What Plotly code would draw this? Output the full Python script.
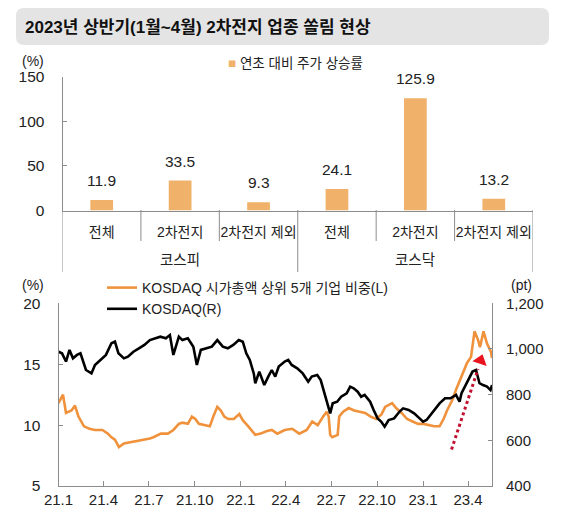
import plotly.graph_objects as go

# page window is 569x517, the browser's default body margin puts the figure at (8, 8)
PAGE_W, PAGE_H = 569, 517
OFF = 8
W, H = PAGE_W - 2 * OFF, PAGE_H - 2 * OFF

# 막대 차트: 연초 대비 주가 상승률 (%)
categories = ["전체", "2차전지", "2차전지 제외", "전체", "2차전지", "2차전지 제외"]
groups = ["코스피", "코스닥"]
returns = [11.9, 33.5, 9.3, 24.1, 125.9, 13.2]

# 선 차트: KOSDAQ 시가총액 상위 5개 기업 비중 (%, 좌축)
share_dates = [
    "2021-01-01", "2021-01-10", "2021-01-16", "2021-01-27", "2021-02-03", "2021-02-10", "2021-02-21",
    "2021-03-04", "2021-03-15", "2021-03-30", "2021-04-10", "2021-04-17", "2021-04-24", "2021-05-02",
    "2021-05-12", "2021-05-27", "2021-06-11", "2021-06-25", "2021-07-03", "2021-07-10", "2021-07-25",
    "2021-08-08", "2021-08-19", "2021-08-30", "2021-09-06", "2021-09-17", "2021-09-25", "2021-10-02",
    "2021-10-09", "2021-10-20", "2021-10-31", "2021-11-07", "2021-11-15", "2021-11-22", "2021-11-29",
    "2021-12-07", "2021-12-18", "2021-12-29", "2022-01-05", "2022-01-16", "2022-01-30", "2022-02-10",
    "2022-02-21", "2022-03-04", "2022-03-15", "2022-03-30", "2022-04-14", "2022-04-28", "2022-05-13",
    "2022-05-24", "2022-06-04", "2022-06-15", "2022-06-22", "2022-06-26", "2022-06-29", "2022-07-03",
    "2022-07-14", "2022-07-17", "2022-07-25", "2022-08-05", "2022-08-16", "2022-08-27", "2022-09-07",
    "2022-09-18", "2022-09-29", "2022-10-10", "2022-10-17", "2022-10-31", "2022-11-08", "2022-11-19",
    "2022-11-30", "2022-12-11", "2022-12-22", "2023-01-02", "2023-01-12", "2023-01-23", "2023-02-03",
    "2023-02-11", "2023-02-18", "2023-03-01", "2023-03-08", "2023-03-16", "2023-03-23", "2023-03-30",
    "2023-04-07", "2023-04-10", "2023-04-14", "2023-04-21", "2023-04-25", "2023-05-02", "2023-05-09",
    "2023-05-17", "2023-05-19",
]
share_values = [
    11.8, 12.5, 11.0, 11.2, 11.6, 10.7, 9.9,
    9.7, 9.6, 9.6, 9.3, 9.0, 8.8, 8.2,
    8.5, 8.6, 8.7, 8.8, 8.9, 9.0, 9.3,
    9.3, 9.6, 10.1, 10.2, 10.1, 10.7, 10.5,
    10.1, 10.0, 9.9, 10.7, 11.5, 11.2, 10.7,
    10.5, 10.5, 10.9, 10.4, 9.9, 9.2, 9.3,
    9.5, 9.6, 9.3, 9.6, 9.7, 9.3, 9.6,
    10.3, 10.0, 10.7, 11.1, 10.7, 9.2, 9.0,
    9.2, 10.7, 11.1, 11.4, 11.2, 11.1, 11.0,
    10.7, 10.5, 10.9, 11.5, 11.8, 11.4, 11.0,
    10.5, 10.3, 10.1, 10.1, 10.0, 9.9, 9.9,
    10.5, 11.2, 12.1, 12.9, 13.7, 14.5, 15.1,
    15.6, 16.4, 17.7, 17.0, 16.4, 17.7, 16.7,
    16.0, 15.5,
]

# 선 차트: KOSDAQ 지수 (pt, 우축)
kosdaq_dates = [
    "2021-01-01", "2021-01-08", "2021-01-16", "2021-01-23", "2021-01-30", "2021-02-07", "2021-02-14",
    "2021-02-25", "2021-03-08", "2021-03-15", "2021-03-26", "2021-04-06", "2021-04-17", "2021-04-24",
    "2021-05-01", "2021-05-12", "2021-05-20", "2021-05-31", "2021-06-11", "2021-06-22", "2021-07-03",
    "2021-07-13", "2021-07-24", "2021-08-04", "2021-08-12", "2021-08-19", "2021-08-30", "2021-09-06",
    "2021-09-17", "2021-09-28", "2021-10-05", "2021-10-13", "2021-10-24", "2021-11-04", "2021-11-15",
    "2021-11-26", "2021-12-06", "2021-12-17", "2021-12-28", "2022-01-05", "2022-01-12", "2022-01-19",
    "2022-01-27", "2022-01-30", "2022-02-07", "2022-02-14", "2022-02-17", "2022-02-25", "2022-03-04",
    "2022-03-11", "2022-03-18", "2022-03-30", "2022-04-06", "2022-04-13", "2022-04-24", "2022-05-05",
    "2022-05-16", "2022-05-23", "2022-06-03", "2022-06-10", "2022-06-18", "2022-06-25", "2022-06-29",
    "2022-07-04", "2022-07-13", "2022-07-21", "2022-08-01", "2022-08-08", "2022-08-15", "2022-08-23",
    "2022-08-30", "2022-09-06", "2022-09-17", "2022-09-24", "2022-10-02", "2022-10-09", "2022-10-16",
    "2022-10-24", "2022-11-04", "2022-11-15", "2022-11-22", "2022-12-03", "2022-12-14", "2022-12-25",
    "2023-01-01", "2023-01-08", "2023-01-16", "2023-01-27", "2023-02-03", "2023-02-14", "2023-02-25",
    "2023-03-08", "2023-03-15", "2023-03-19", "2023-03-30", "2023-04-10", "2023-04-17", "2023-04-24",
    "2023-05-01", "2023-05-09", "2023-05-16", "2023-05-19",
]
kosdaq_values = [
    988, 981, 945, 996, 959, 974, 981,
    908, 893, 930, 952, 974, 1025, 1032,
    981, 959, 966, 988, 1003, 1018, 1039,
    1047, 1054, 1047, 1061, 974, 1054, 1039,
    1047, 1010, 930, 996, 1003, 1010, 1039,
    1010, 1003, 1018, 1039, 1032, 981, 952,
    893, 850, 901, 864, 842, 879, 908,
    879, 923, 945, 952, 930, 915, 893,
    857, 879, 886, 864, 806, 747, 718,
    762, 769, 791, 806, 835, 828, 813,
    791, 799, 769, 733, 696, 682, 660,
    689, 696, 726, 740, 733, 718, 696,
    682, 689, 711, 740, 762, 784, 784,
    799, 769, 806, 857, 901, 908, 850,
    842, 835, 820, 842,
]

x_tick_dates = ["2021-01-01", "2021-04-01", "2021-07-01", "2021-10-01", "2022-01-01",
                "2022-04-01", "2022-07-01", "2022-10-01", "2023-01-01", "2023-04-01"]
x_tick_labels = ["21.1", "21.4", "21.7", "21.10", "22.1", "22.4", "22.7", "22.10", "23.1", "23.4"]

BAR_COLOR = "#F0B26A"
SHARE_COLOR = "#F0923C"
AXIS_COLOR = "#8C8C8C"
TEXT_COLOR = "#222222"
FONT = "Liberation Sans, Noto Sans CJK KR, sans-serif"


def px(x):
    # page pixel -> paper x
    return (x - OFF) / W


def py(y):
    # page pixel -> paper y
    return 1 - (y - OFF) / H


fig = go.Figure()

# --- 막대
fig.add_trace(go.Bar(
    x=list(range(len(categories))), y=returns,
    width=0.29, marker=dict(color=BAR_COLOR, line=dict(width=0)),
    xaxis="x", yaxis="y", showlegend=False, hoverinfo="skip",
))

# --- 선
fig.add_trace(go.Scatter(
    x=share_dates, y=share_values, mode="lines",
    line=dict(color=SHARE_COLOR, width=2.6),
    name="KOSDAQ 시가총액 상위 5개 기업 비중(L)",
    xaxis="x2", yaxis="y2", legend="legend2",
))
fig.add_trace(go.Scatter(
    x=kosdaq_dates, y=kosdaq_values, mode="lines",
    line=dict(color="#000000", width=2.6),
    name="KOSDAQ(R)",
    xaxis="x2", yaxis="y3", legend="legend2",
))

# 화살표 머리
fig.add_trace(go.Scatter(
    x=["2023-04-26"], y=[15.3], mode="markers",
    marker=dict(symbol="triangle-up", size=13, angle=18, color="#E8141E", line=dict(width=0)),
    xaxis="x2", yaxis="y2", showlegend=False, hoverinfo="skip",
))

annotations = []
shapes = []

# 제목 바
r = 8
x0, x1, y0, y1 = 16, 549, 8, 45
path = (f"M {px(x0 + r)} {py(y0)} L {px(x1 - r)} {py(y0)} Q {px(x1)} {py(y0)} {px(x1)} {py(y0 + r)} "
        f"L {px(x1)} {py(y1 - r)} Q {px(x1)} {py(y1)} {px(x1 - r)} {py(y1)} "
        f"L {px(x0 + r)} {py(y1)} Q {px(x0)} {py(y1)} {px(x0)} {py(y1 - r)} "
        f"L {px(x0)} {py(y0 + r)} Q {px(x0)} {py(y0)} {px(x0 + r)} {py(y0)} Z")
shapes.append(dict(type="path", path=path, xref="paper", yref="paper",
                   fillcolor="#E4E4E4", line=dict(width=0), layer="below"))
annotations.append(dict(text="<b>2023년 상반기(1월~4월) 2차전지 업종 쏠림 현상</b>",
                        x=px(23), y=py(27), xref="paper", yref="paper",
                        xanchor="left", yanchor="middle", showarrow=False,
                        font=dict(size=17, color="#111111")))

# 막대 범례 / 단위
annotations.append(dict(text=f'<span style="color:{BAR_COLOR}">■</span> 연초 대비 주가 상승률',
                        x=px(226), y=py(63), xref="paper", yref="paper",
                        xanchor="left", yanchor="middle", showarrow=False,
                        font=dict(size=13.5, color=TEXT_COLOR)))
annotations.append(dict(text="(%)", x=px(46), y=py(61), xref="paper", yref="paper",
                        xanchor="right", yanchor="middle", showarrow=False,
                        font=dict(size=14, color=TEXT_COLOR)))

# 막대 값 라벨
for i, v in enumerate(returns):
    annotations.append(dict(text=f"{v:.1f}", x=i, y=v, xref="x", yref="y",
                            xanchor="center", yanchor="bottom", yshift=9, showarrow=False,
                            font=dict(size=15.5, color=TEXT_COLOR)))

# 그룹 라벨 (코스피 / 코스닥)
for g, name in enumerate(groups):
    annotations.append(dict(text=name, x=g * 3 + 1, y=py(260), xref="x", yref="paper",
                            xanchor="center", yanchor="middle", showarrow=False,
                            font=dict(size=14.5, color=TEXT_COLOR)))

# 카테고리 구분선
for k in range(len(categories) + 1):
    xv = k - 0.5
    bottom = 272 if k % 3 == 0 else 241
    shapes.append(dict(type="line", xref="x", yref="paper", x0=xv, x1=xv,
                       y0=py(210), y1=py(bottom), line=dict(color=AXIS_COLOR, width=1)))

# 선 차트 단위
annotations.append(dict(text="(%)", x=px(46), y=py(285), xref="paper", yref="paper",
                        xanchor="right", yanchor="middle", showarrow=False,
                        font=dict(size=14, color=TEXT_COLOR)))
annotations.append(dict(text="(pt)", x=px(521), y=py(285), xref="paper", yref="paper",
                        xanchor="center", yanchor="middle", showarrow=False,
                        font=dict(size=14, color=TEXT_COLOR)))

# 점선 화살표
shapes.append(dict(type="line", xref="x2", yref="y2",
                   x0="2023-02-27", y0=8.0, x1="2023-04-21", y1=14.6,
                   line=dict(color="#C0102E", width=3, dash="dot")))

axis_common = dict(showline=True, linecolor=AXIS_COLOR, linewidth=1, showgrid=False,
                   zeroline=False, automargin=False, fixedrange=True)

fig.update_layout(
    width=W, height=H,
    margin=dict(l=0, r=0, t=0, b=0, autoexpand=False),
    paper_bgcolor="white", plot_bgcolor="rgba(0,0,0,0)",
    font=dict(family=FONT, color=TEXT_COLOR, size=15),
    shapes=shapes, annotations=annotations,
    legend2=dict(x=px(102), y=py(272), xanchor="left", yanchor="top",
                 orientation="v", bgcolor="rgba(0,0,0,0)", borderwidth=0,
                 font=dict(size=14, color=TEXT_COLOR), tracegroupgap=0, itemwidth=30),
    xaxis=dict(domain=[px(62.5), px(533)], anchor="y", range=[-0.5, 5.5],
               tickvals=list(range(len(categories))), ticktext=categories,
               ticks="", tickfont=dict(size=14), ticklabelstandoff=9, **axis_common),
    yaxis=dict(domain=[py(210.5), py(76.7)], anchor="x", range=[0, 150], dtick=50,
               ticks="inside", ticklen=4, tickcolor=AXIS_COLOR,
               tickfont=dict(size=15.5), ticklabelstandoff=14, **axis_common),
    xaxis2=dict(domain=[px(58.5), px(492)], anchor="y2", type="date",
                range=["2021-01-01", "2023-05-19"],
                tickvals=x_tick_dates, ticktext=x_tick_labels,
                ticks="inside", ticklen=5, tickcolor=AXIS_COLOR,
                tickfont=dict(size=15), ticklabelstandoff=0, **axis_common),
    yaxis2=dict(domain=[py(486), py(303.3)], anchor="x2", range=[5, 20], dtick=5,
                ticks="inside", ticklen=4, tickcolor=AXIS_COLOR,
                tickfont=dict(size=15.5), ticklabelstandoff=14, **axis_common),
    yaxis3=dict(anchor="x2", overlaying="y2", side="right", range=[400, 1200], dtick=200,
                tickformat=",", ticks="inside", ticklen=4, tickcolor=AXIS_COLOR,
                tickfont=dict(size=15), ticklabelstandoff=10, **axis_common),
)

fig.write_html("out.html")
